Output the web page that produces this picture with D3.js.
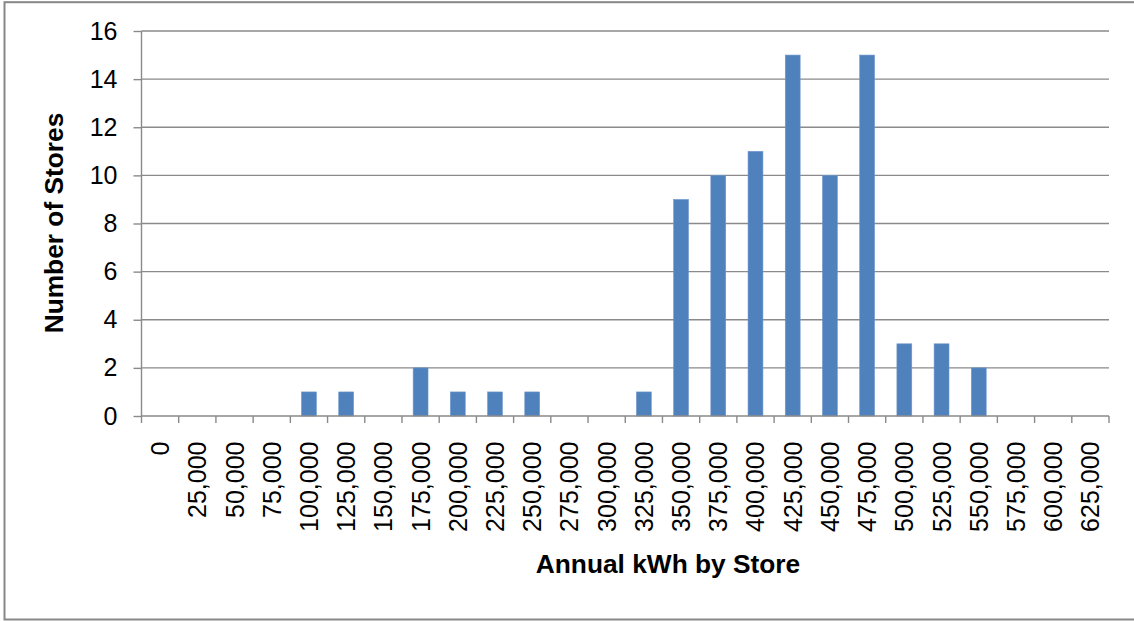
<!DOCTYPE html>
<html>
<head>
<meta charset="utf-8">
<script src="https://cdn.jsdelivr.net/npm/d3@7"></script>
<style>
  html, body { margin: 0; padding: 0; background: #fff; }
  svg { display: block; font-family: "Liberation Sans", Arial, sans-serif; }
</style>
</head>
<body>
<svg id="chart" width="1134" height="621"></svg>
<script>
// Histogram of annual electricity use per store (25,000 kWh bins)
const binStarts = [0, 25000, 50000, 75000, 100000, 125000, 150000, 175000, 200000,
  225000, 250000, 275000, 300000, 325000, 350000, 375000, 400000, 425000, 450000,
  475000, 500000, 525000, 550000, 575000, 600000, 625000];
const storeCounts = [0, 0, 0, 0, 1, 1, 0, 2, 1, 1, 1, 0, 0, 1, 9, 10, 11, 15, 10, 15, 3, 3, 2, 0, 0, 0];
const yTicks = [0, 2, 4, 6, 8, 10, 12, 14, 16];
const xTitle = "Annual kWh by Store";
const yTitle = "Number of Stores";

const svg = d3.select("#chart");
const fmt = d3.format(",");

const plotLeft = 141.5, plotRight = 1109, plotTop = 31, plotBottom = 416;
const gridColor = "#8a8a8a";

// outer chart frame
svg.append("rect")
  .attr("x", 4.5).attr("y", 2.2)
  .attr("width", 1140).attr("height", 617.3)
  .attr("fill", "#fff")
  .attr("stroke", "#878787")
  .attr("stroke-width", 2);

const x = d3.scaleBand()
  .domain(binStarts)
  .range([plotLeft, plotRight])
  .paddingInner(0.6)
  .paddingOuter(0.3);

const y = d3.scaleLinear().domain([0, 16]).range([plotBottom, plotTop]);

// horizontal gridlines
svg.append("g").selectAll("line")
  .data(yTicks.filter(d => d > 0))
  .join("line")
  .attr("x1", plotLeft).attr("x2", plotRight)
  .attr("y1", d => y(d)).attr("y2", d => y(d))
  .attr("stroke", gridColor).attr("stroke-width", 1.4);

// bars
svg.append("g").selectAll("rect")
  .data(binStarts.map((b, i) => ({ b, v: storeCounts[i] })).filter(d => d.v > 0))
  .join("rect")
  .attr("x", d => x(d.b))
  .attr("y", d => y(d.v))
  .attr("width", x.bandwidth())
  .attr("height", d => y(0) - y(d.v))
  .attr("fill", "#4f81bd")
  .attr("stroke", "#6f98cc")
  .attr("stroke-width", 0.6);

// y axis
const yAxis = d3.axisLeft(y).tickValues(yTicks).tickSize(8).tickPadding(16);
const gy = svg.append("g").attr("transform", `translate(${plotLeft},0)`).call(yAxis);
gy.select(".domain").attr("stroke", gridColor).attr("stroke-width", 1.4).attr("d", `M0,${plotTop}V${plotBottom}`);
gy.selectAll(".tick line").attr("stroke", gridColor).attr("stroke-width", 1.4);
gy.selectAll(".tick text")
  .attr("font-size", 25)
  .attr("fill", "#000")
  .attr("font-family", "Liberation Sans, Arial, sans-serif");

// x axis: baseline, boundary ticks, rotated labels
const gx = svg.append("g");
gx.append("line")
  .attr("x1", plotLeft).attr("x2", plotRight)
  .attr("y1", plotBottom).attr("y2", plotBottom)
  .attr("stroke", gridColor).attr("stroke-width", 1.4);
const boundaries = d3.range(binStarts.length + 1).map(i => plotLeft + i * x.step());
gx.selectAll("line.tick")
  .data(boundaries)
  .join("line")
  .attr("class", "tick")
  .attr("x1", d => d).attr("x2", d => d)
  .attr("y1", plotBottom).attr("y2", plotBottom + 7)
  .attr("stroke", gridColor).attr("stroke-width", 1.4);
gx.selectAll("text")
  .data(binStarts)
  .join("text")
  .attr("transform", d => `translate(${x(d) + x.bandwidth() / 2},441.5) rotate(-90)`)
  .attr("dy", "0.36em")
  .attr("text-anchor", "end")
  .attr("font-size", 25)
  .attr("fill", "#000")
  .text(d => fmt(d));

// axis titles
svg.append("text")
  .attr("x", 668).attr("y", 573)
  .attr("text-anchor", "middle")
  .attr("font-size", 26.3)
  .attr("font-weight", "bold")
  .attr("fill", "#000")
  .text(xTitle);

svg.append("text")
  .attr("transform", "translate(62.5,223) rotate(-90)")
  .attr("text-anchor", "middle")
  .attr("font-size", 26.3)
  .attr("font-weight", "bold")
  .attr("fill", "#000")
  .text(yTitle);
</script>
</body>
</html>
